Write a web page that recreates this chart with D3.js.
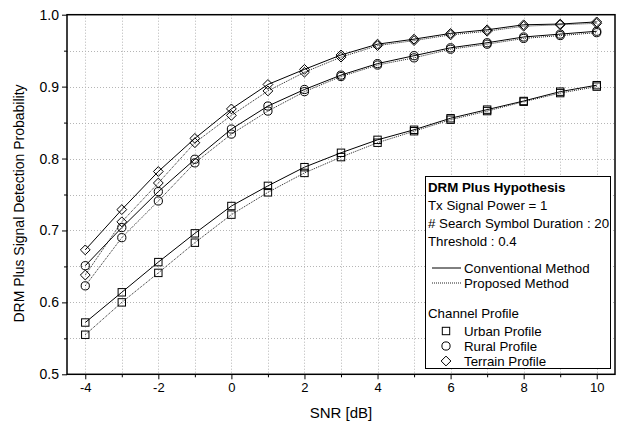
<!DOCTYPE html>
<html><head><meta charset="utf-8">
<script src="https://cdn.jsdelivr.net/npm/d3@7"></script>
<style>
html,body{margin:0;padding:0;background:#fff;}
svg{display:block;font-family:"Liberation Sans",Arial,sans-serif;}
</style></head>
<body>
<svg id="chart" width="620" height="424"></svg>
<script>
const snr = [-4,-3,-2,-1,0,1,2,3,4,5,6,7,8,9,10];
const urbanConv   = [0.572,0.614,0.656,0.696,0.734,0.762,0.788,0.808,0.826,0.840,0.856,0.868,0.880,0.893,0.902];
const urbanProp   = [0.555,0.600,0.641,0.683,0.722,0.753,0.780,0.802,0.822,0.838,0.854,0.866,0.879,0.891,0.900];
const ruralConv   = [0.651,0.704,0.754,0.799,0.841,0.873,0.896,0.916,0.932,0.943,0.954,0.961,0.969,0.973,0.977];
const ruralProp   = [0.623,0.690,0.741,0.794,0.834,0.866,0.893,0.914,0.930,0.940,0.952,0.959,0.967,0.971,0.975];
const terrainConv = [0.673,0.729,0.782,0.828,0.869,0.903,0.924,0.944,0.959,0.966,0.974,0.979,0.986,0.987,0.990];
const terrainProp = [0.638,0.712,0.766,0.822,0.860,0.894,0.920,0.941,0.957,0.964,0.972,0.977,0.984,0.986,0.988];
const xTicks = [-4,-2,0,2,4,6,8,10];
const xTickLabels = ["-4","-2","0","2","4","6","8","10"];
const yTicks = [0.5,0.6,0.7,0.8,0.9,1.0];
const yTickLabels = ["0.5","0.6","0.7","0.8","0.9","1.0"];
const legendTitle = "DRM Plus Hypothesis";
const legendInfo = ["Tx Signal Power = 1","# Search Symbol Duration : 20","Threshold : 0.4"];
const methodNames = ["Conventional Method","Proposed Method"];
const profileTitle = "Channel Profile";
const profileNames = ["Urban Profile","Rural Profile","Terrain Profile"];
const xTitle = "SNR [dB]";
const yTitle = "DRM Plus Signal Detection Probability";

const series = [
  {v: urbanConv, m: "square", dash: false},
  {v: urbanProp, m: "square", dash: true},
  {v: ruralConv, m: "circle", dash: false},
  {v: ruralProp, m: "circle", dash: true},
  {v: terrainConv, m: "diamond", dash: false},
  {v: terrainProp, m: "diamond", dash: true}
];

const svg = d3.select("#chart");
const L = 67, R = 615, T = 14.7, B = 374.3;
const x = d3.scaleLinear().domain([-4.5,10.5]).range([L,R]);
const y = d3.scaleLinear().domain([0.5,1.0]).range([B,T]);

// grid
const g = svg.append("g");
g.selectAll(".gx").data(d3.range(-4,11,1)).join("line")
  .attr("x1",d=>Math.round(x(d))+0.5).attr("x2",d=>Math.round(x(d))+0.5).attr("y1",T).attr("y2",B)
  .attr("stroke","#b5b5b5").attr("stroke-width",1).attr("stroke-dasharray","1,2");
g.selectAll(".gy").data(d3.range(0.55,1.0,0.05)).join("line")
  .attr("y1",d=>Math.round(y(d))+0.5).attr("y2",d=>Math.round(y(d))+0.5).attr("x1",L).attr("x2",R)
  .attr("stroke","#b5b5b5").attr("stroke-width",1).attr("stroke-dasharray","1,2");

// axes
const xAxis = d3.axisBottom(x).tickValues(xTicks).tickSize(5).tickPadding(3).tickFormat((d,i)=>xTickLabels[i]);
const xMinor = d3.axisBottom(x).tickValues(d3.range(-3,11,2)).tickSize(3).tickFormat("");
const yAxis = d3.axisLeft(y).tickValues(yTicks).tickSize(5).tickPadding(3).tickFormat((d,i)=>yTickLabels[i]);
const yMinor = d3.axisLeft(y).tickValues([0.55,0.65,0.75,0.85,0.95]).tickSize(3).tickFormat("");

function styleAxis(sel, fs){
  sel.select(".domain").remove();
  sel.selectAll("line").attr("stroke","#000").attr("stroke-width",1);
  sel.selectAll("text").attr("fill","#000").style("font-size",fs+"px").style("font-family","'Liberation Sans',Arial,sans-serif");
}
svg.append("g").attr("transform",`translate(0,${B})`).call(xAxis).call(s=>styleAxis(s,13));
svg.append("g").attr("transform",`translate(0,${B})`).call(xMinor).call(s=>styleAxis(s,13));
svg.append("g").attr("transform",`translate(${L},0)`).call(yAxis).call(s=>styleAxis(s,14));
svg.append("g").attr("transform",`translate(${L},0)`).call(yMinor).call(s=>styleAxis(s,14));

// frame
svg.append("rect").attr("x",L).attr("y",T).attr("width",R-L).attr("height",B-T)
  .attr("fill","none").attr("stroke","#000").attr("stroke-width",1.5);

// titles
svg.append("text").attr("x",(L+R)/2).attr("y",418).attr("text-anchor","middle")
  .style("font-size","15px").text(xTitle);
svg.append("text").attr("transform",`translate(24,203.5) rotate(-90)`).attr("text-anchor","middle")
  .style("font-size","14px").text(yTitle);

// markers
function marker(sel, type, cx, cy){
  if(type==="square"){
    sel.append("rect").attr("x",cx-3.7).attr("y",cy-3.7).attr("width",7.4).attr("height",7.4)
      .attr("fill","none").attr("stroke","#000").attr("stroke-width",1);
  } else if(type==="circle"){
    sel.append("circle").attr("cx",cx).attr("cy",cy).attr("r",4.1)
      .attr("fill","none").attr("stroke","#000").attr("stroke-width",1);
  } else {
    const r=4.9;
    sel.append("path").attr("d",`M${cx},${cy-r}L${cx+r},${cy}L${cx},${cy+r}L${cx-r},${cy}Z`)
      .attr("fill","none").attr("stroke","#000").attr("stroke-width",1);
  }
}

const line = d3.line().x((d,i)=>x(snr[i])).y(d=>y(d));
const plot = svg.append("g");
series.forEach(s=>{
  plot.append("path").attr("d",line(s.v)).attr("fill","none")
    .attr("stroke", s.dash ? "#222" : "#000").attr("stroke-width",1)
    .attr("stroke-dasharray", s.dash ? "1,1" : null);
});
series.forEach(s=>{
  const gm = plot.append("g");
  s.v.forEach((v,i)=>marker(gm, s.m, x(snr[i]), y(v)));
});

// legend
const lg = svg.append("g");
const fsL = "13.3px";
lg.append("rect").attr("x",425.5).attr("y",176.5).attr("width",185).attr("height",192)
  .attr("fill","#fff").attr("stroke","#000").attr("stroke-width",1);
lg.append("text").attr("x",428).attr("y",192).style("font-size",fsL).style("font-weight","bold").text(legendTitle);
legendInfo.forEach((t,i)=>lg.append("text").attr("x",428).attr("y",210+i*18).style("font-size",fsL).text(t));
methodNames.forEach((t,i)=>{
  const yy = 268+i*15;
  lg.append("line").attr("x1",432).attr("x2",461).attr("y1",yy).attr("y2",yy)
    .attr("stroke", i ? "#222" : "#000").attr("stroke-width",1).attr("stroke-dasharray", i ? "1,1" : null);
  lg.append("text").attr("x",464).attr("y",yy+4.5).style("font-size",fsL).text(t);
});
lg.append("text").attr("x",428).attr("y",318).style("font-size",fsL).text(profileTitle);
["square","circle","diamond"].forEach((m,i)=>{
  const yy = 331+i*15;
  marker(lg, m, 446, yy);
  lg.append("text").attr("x",464).attr("y",yy+4.5).style("font-size",fsL).text(profileNames[i]);
});
</script>
</body></html>
